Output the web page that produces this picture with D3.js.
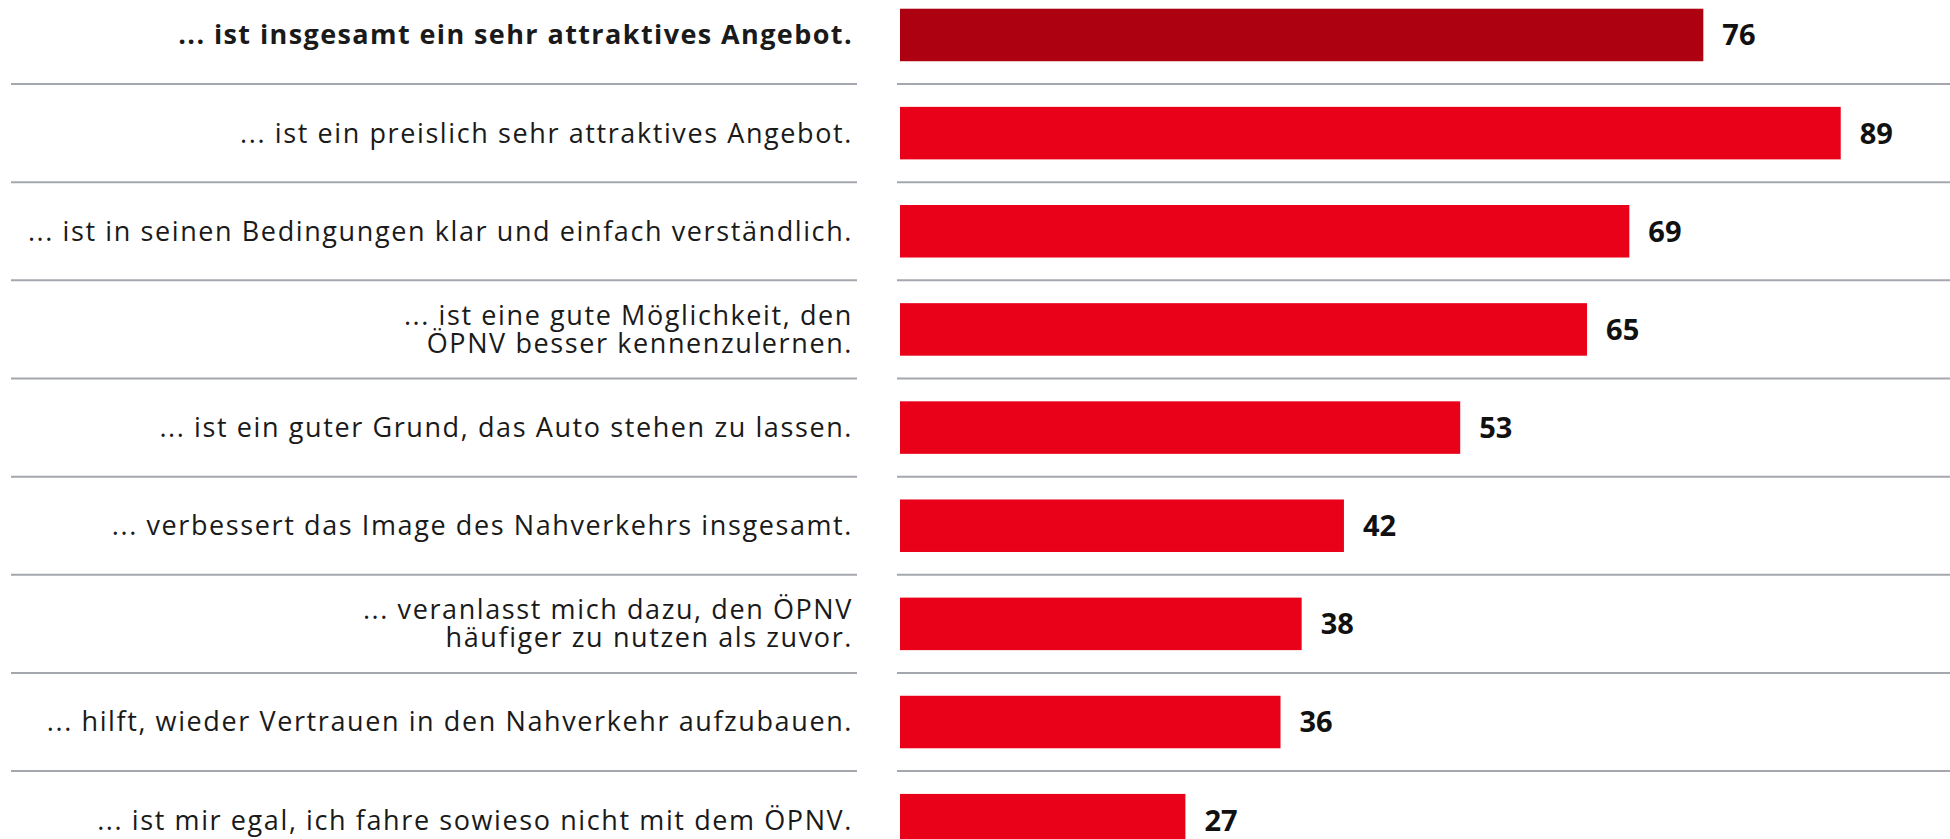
<!DOCTYPE html>
<html>
<head>
<meta charset="utf-8">
<script src="https://cdn.jsdelivr.net/npm/d3@7"></script>
<style>
  body { margin: 0; background: #fff; }
  svg { display: block; }
</style>
</head>
<body>
<svg id="Chart"></svg>
<script>
let statements = [
    "... ist insgesamt ein sehr attraktives Angebot.",
    "... ist ein preislich sehr attraktives Angebot.",
    "... ist in seinen Bedingungen klar und einfach verständlich.",
    "... ist eine gute Möglichkeit, den\nÖPNV besser kennenzulernen.",
    "... ist ein guter Grund, das Auto stehen zu lassen.",
    "... verbessert das Image des Nahverkehrs insgesamt.",
    "... veranlasst mich dazu, den ÖPNV\nhäufiger zu nutzen als zuvor.",
    "... hilft, wieder Vertrauen in den Nahverkehr aufzubauen.",
    "... ist mir egal, ich fahre sowieso nicht mit dem ÖPNV."
]
let values = [76, 89, 69, 65, 53, 42, 38, 36, 27]
let highlighted = ["... ist insgesamt ein sehr attraktives Angebot."]

function getChartConfig(){
    let width = 1950
    let height = 839
    let step = 98.15
    let top = -14.1
    let barLeft = 900
    let unit = 10.57   // pixels per percent point
    let labelRight = 853

    let container = d3.select("#Chart")
    container.attr("width", width).attr("height", height)

    return { width, height, step, top, barLeft, unit, labelRight, container }
}

function getScales(config){
    let { step, top, barLeft, unit } = config

    let xScale = d3.scaleLinear()
        .domain([0, 100])
        .range([barLeft, barLeft + 100 * unit])

    let yScale = d3.scaleBand()
        .domain(statements)
        .range([top, top + statements.length * step])
        .paddingInner(0.465)
        .paddingOuter(0.465 / 2)

    return { xScale, yScale }
}

function drawSeparators(scales, config){
    let { yScale } = scales
    let { container, width } = config
    let lines = statements.slice(1).map(s => yScale(s) - yScale.step() * yScale.paddingInner() / 2)

    let g = container.append("g")
    g.selectAll(".sepLeft").data(lines).enter().append("line")
        .attr("x1", 11).attr("x2", 857)
        .attr("y1", d => d).attr("y2", d => d)
        .attr("stroke", "#a4a7ae")
        .attr("stroke-width", 2)
    g.selectAll(".sepRight").data(lines).enter().append("line")
        .attr("x1", 897).attr("x2", width)
        .attr("y1", d => d).attr("y2", d => d)
        .attr("stroke", "#a4a7ae")
        .attr("stroke-width", 2)
}

function drawBars(scales, config){
    let { xScale, yScale } = scales
    let { container } = config
    let data = statements.map((s, i) => ({ label: s, value: values[i] }))

    let body = container.append("g")

    body.selectAll(".bar").data(data).enter().append("rect")
        .attr("class", "bar")
        .attr("x", xScale(0))
        .attr("y", d => yScale(d.label))
        .attr("width", d => xScale(d.value) - xScale(0))
        .attr("height", yScale.bandwidth())
        .attr("fill", d => highlighted.includes(d.label) ? "#ad0010" : "#e90019")

    body.selectAll(".value").data(data).enter().append("text")
        .attr("class", "value")
        .attr("x", d => xScale(d.value) + 19)
        .attr("y", d => yScale(d.label) + yScale.bandwidth() / 2)
        .attr("dy", "0.36em")
        .attr("font-family", "'Open Sans', sans-serif")
        .attr("font-weight", "bold")
        .attr("font-size", 29)
        .attr("fill", "#111")
        .text(d => d.value)
}

function drawLabels(scales, config){
    let { yScale } = scales
    let { container, labelRight } = config
    let lineHeight = 28

    let labels = container.append("g").selectAll(".label").data(statements).enter().append("text")
        .attr("class", "label")
        .attr("text-anchor", "end")
        .attr("font-family", "'Open Sans', sans-serif")
        .attr("font-size", 27)
        .attr("font-weight", d => highlighted.includes(d) ? "bold" : "normal")
        .attr("letter-spacing", d => highlighted.includes(d) ? 1.4 : 1.6)
        .attr("fill", "#1a1a1a")

    labels.each(function(d){
        let rows = d.split("\n")
        let mid = yScale(d) + yScale.bandwidth() / 2
        let first = mid - (rows.length - 1) * lineHeight / 2
        d3.select(this).selectAll("tspan").data(rows).enter().append("tspan")
            .attr("x", labelRight)
            .attr("y", (r, i) => first + i * lineHeight)
            .attr("dy", "0.35em")
            .text(r => r)
    })
}

function drawChart(){
    let config = getChartConfig()
    let scales = getScales(config)
    drawSeparators(scales, config)
    drawBars(scales, config)
    drawLabels(scales, config)
}

drawChart()
</script>
</body>
</html>
